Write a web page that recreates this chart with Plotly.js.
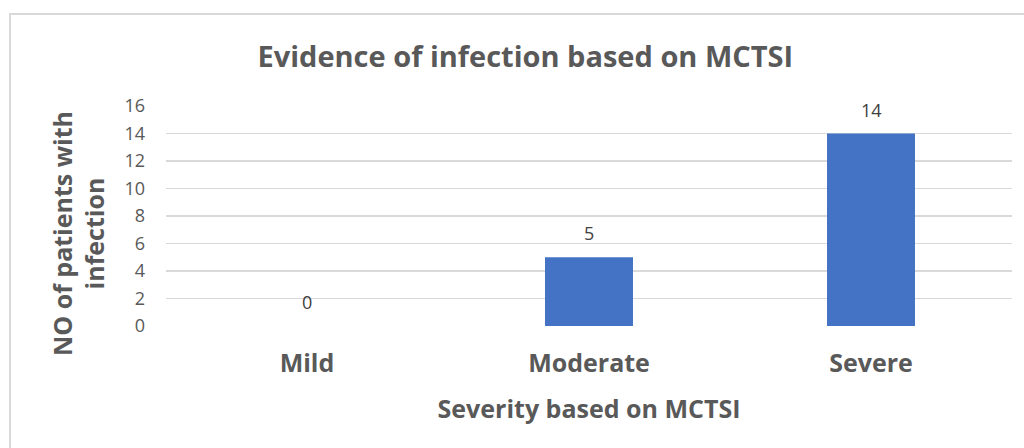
<!DOCTYPE html>
<html>
<head>
<meta charset="utf-8">
<script src="https://cdn.plot.ly/plotly-3.0.1.min.js"></script>
<style>html,body{margin:0;padding:0;background:#fff;}#chart{width:1024px;height:448px;}</style>
</head>
<body>
<div id="chart"></div>
<script>
const categories = ["Mild", "Moderate", "Severe"];
const infectedCounts = [0, 5, 14];
const yTickValues = [0, 2, 4, 6, 8, 10, 12, 14, 16];
const chartTitle = "Evidence of infection based on MCTSI";
const xTitle = "Severity based on MCTSI";
const yTitle = "NO of patients with<br>infection";

const textColor = "#595959";
const fontFam = "'Open Sans', 'Liberation Sans', sans-serif";

const trace = {
  type: "bar",
  x: categories,
  y: infectedCounts,
  marker: {color: "#4472C4"},
  width: 0.312,
  hoverinfo: "skip"
};

const labelAnnotations = categories.map((c, i) => ({
  x: c, y: infectedCounts[i], xref: "x", yref: "y",
  text: String(infectedCounts[i]), showarrow: false,
  yshift: 24, font: {family: fontFam, size: 18, color: "#404040"}
}));

const layout = {
  width: 1024, height: 448,
  margin: {l: 166, r: 12, t: 106, b: 122, pad: 0},
  paper_bgcolor: "#fff", plot_bgcolor: "#fff",
  showlegend: false,
  title: {
    text: chartTitle, x: 0.513, xref: "container", xanchor: "center",
    y: 0.873, yref: "container", yanchor: "middle",
    font: {family: fontFam, size: 29, color: textColor, weight: "bold"}
  },
  xaxis: {
    type: "category", range: [-0.5, 2.5],
    showgrid: false, zeroline: false, showline: false, ticks: "",
    tickfont: {family: fontFam, size: 25, color: textColor, weight: "bold"},
    ticklabelstandoff: 20,
    title: {text: xTitle, standoff: 22, font: {family: fontFam, size: 25, color: textColor, weight: "bold"}}
  },
  yaxis: {
    range: [0, 16], tickvals: yTickValues,
    showgrid: true, gridcolor: "#D9D9D9", gridwidth: 1.5,
    zeroline: false, showline: false, ticks: "",
    tickfont: {family: fontFam, size: 18, color: textColor},
    ticklabelstandoff: 20
  },
  annotations: labelAnnotations.concat([{
    text: yTitle, xref: "paper", yref: "paper", x: -0.104, y: 0.418,
    xanchor: "center", yanchor: "middle", textangle: -90, showarrow: false,
    font: {family: fontFam, size: 25, color: textColor, weight: "bold"}
  }]),
  shapes: [{
    type: "rect", xref: "paper", yref: "paper",
    x0: -0.1844, x1: 1.05, y0: -0.7, y1: 1.418,
    line: {color: "#D9D9D9", width: 2}, fillcolor: "rgba(0,0,0,0)", layer: "below"
  }]
};

Plotly.newPlot("chart", [trace], layout, {displayModeBar: false, staticPlot: true});
</script>
</body>
</html>
